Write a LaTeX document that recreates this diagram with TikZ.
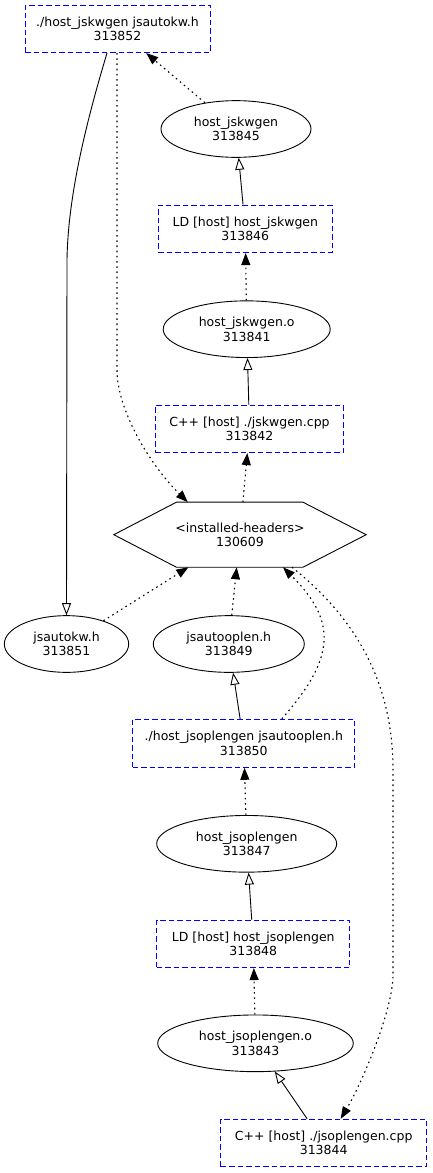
\documentclass[tikz,border=0pt]{standalone}
\usepackage{fontspec}
\setmainfont{DejaVu Sans}
\usetikzlibrary{shapes.geometric,arrows.meta,calc}
\newcommand\gvfont{\fontsize{12.5}{14.5}\selectfont}
\tikzset{
  gbox/.style={draw=blue, line width=1pt, dash pattern=on 5.5pt off 3pt, minimum height=47.5pt, inner sep=0pt, align=center, font=\gvfont},
  gell/.style={ellipse, draw, line width=0.9pt, minimum height=56.7pt, inner sep=0pt, align=center, font=\gvfont},
  ghex/.style={minimum width=252pt, minimum height=64.7pt, inner sep=0pt, align=center, font=\gvfont},
  dep/.style={line width=1.1pt, dash pattern=on 1.6pt off 3.6pt, -{Triangle[length=12pt,width=9pt]}},
  bld/.style={line width=0.9pt, -{Triangle[open,length=12pt,width=9pt]}},
}
\begin{document}
\begin{tikzpicture}[x=1pt,y=-1pt]
\useasboundingbox (0,0) rectangle (432,1173);
% nodes
\node[gbox, minimum width=185pt] (n313852) at (117.5,28.8) {./host\_jskwgen jsautokw.h\\313852};
\node[gell, minimum width=150pt] (n313845) at (236,129) {host\_jskwgen\\313845};
\node[gbox, minimum width=174pt] (n313846) at (245.3,228.8) {LD [host] host\_jskwgen\\313846};
\node[gell, minimum width=167pt] (n313841) at (246.7,329.2) {host\_jskwgen.o\\313841};
\node[gbox, minimum width=187.6pt] (n313842) at (249.5,428.8) {C++ [host] ./jskwgen.cpp\\313842};
\node[ghex] (n130609) at (240,534.7) {<installed-headers>\\130609};
\draw[line width=0.9pt] (n130609.west) -- ($(n130609.north west)+(62.7,0)$) -- ($(n130609.north east)+(-63.3,0)$) -- (n130609.east) -- ($(n130609.south east)+(-63.3,0)$) -- ($(n130609.south west)+(62.7,0)$) -- cycle;
\node[gell, minimum width=124.4pt] (n313851) at (66.5,644) {jsautokw.h\\313851};
\node[gell, minimum width=151pt] (n313849) at (228.8,644) {jsautooplen.h\\313849};
\node[gbox, minimum width=222.3pt, minimum height=48pt] (n313850) at (243.8,743.3) {./host\_jsoplengen jsautooplen.h\\313850};
\node[gell, minimum width=180pt] (n313847) at (246.7,843.8) {host\_jsoplengen\\313847};
\node[gbox, minimum width=193.3pt] (n313848) at (253.3,943.8) {LD [host] host\_jsoplengen\\313848};
\node[gell, minimum width=195.6pt] (n313843) at (255.5,1043.3) {host\_jsoplengen.o\\313843};
\node[gbox, minimum width=206pt] (n313844) at (323.7,1143) {C++ [host] ./jsoplengen.cpp\\313844};
% straight edges
\draw[dep] (n313845) -- (n313852);
\draw[bld] (n313846) -- (n313845);
\draw[dep] (n313841) -- (n313846);
\draw[bld] (n313842) -- (n313841);
\draw[dep] (n130609) -- (n313842);
\draw[dep] (n313851) -- (n130609);
\draw[dep] (n313849) -- (n130609);
\draw[bld] (n313850) -- (n313849);
\draw[dep] (n313847) -- (n313850);
\draw[bld] (n313848) -- (n313847);
\draw[dep] (n313843) -- (n313848);
\draw[bld] (n313844) -- (n313843);
% curved edges
\draw[dep] ($(n313852.south)+(-0.5,0)$) -- (117,370) .. controls (117,410) and (150,465) .. ($(n130609.north west)+(74,0)$);
\draw[bld] ($(n313852.south)+(-10.5,0)$) .. controls (90,110) and (68,190) .. (67,260) -- (n313851.north);
\draw[dep] ($(n313850.north)+(38,0)$) .. controls (336,657.6) and (337,621) .. ($(n130609.south)+(43,0)$);
\draw[dep] ($(n130609.south)+(52,0)$) .. controls (362,623) and (393,690) .. (393,770) -- (393,975) .. controls (393,1010) and (362,1083) .. ($(n313844.north)+(17,0)$);
\end{tikzpicture}
\end{document}
